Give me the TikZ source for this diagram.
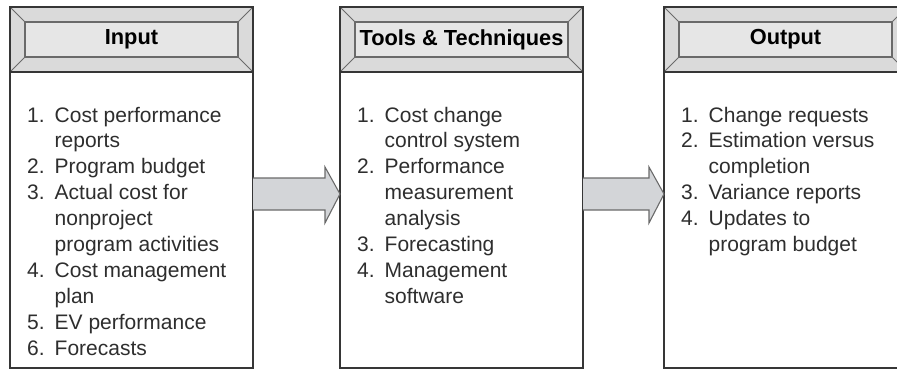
\documentclass[tikz,border=0pt]{standalone}
\usepackage{fontspec}
\setmainfont{Liberation Sans}
\usetikzlibrary{positioning}

\definecolor{frame}{HTML}{363636}
\definecolor{bevel}{HTML}{DADADA}
\definecolor{headfill}{HTML}{E6E6E6}
\definecolor{edge}{HTML}{6A6A6A}
\definecolor{ink}{HTML}{2E2E2E}
\definecolor{arrowfill}{HTML}{D3D5D8}

% block arrow between two panels
\newcommand\blockarrow[2]{%
  \fill[arrowfill] ([yshift=42pt]#1.east) -- ([xshift=-15pt,yshift=42pt]#2.west)
    -- ([xshift=-15pt,yshift=53pt]#2.west) -- ([yshift=26pt]#2.west)
    -- ([xshift=-15pt,yshift=-3pt]#2.west) -- ([xshift=-15pt,yshift=10pt]#2.west)
    -- ([yshift=10pt]#1.east) -- cycle;
  \draw[arrowline] ([yshift=42pt]#1.east) -- ([xshift=-15pt,yshift=42pt]#2.west)
    -- ([xshift=-15pt,yshift=53pt]#2.west) -- ([yshift=26pt]#2.west)
    -- ([xshift=-15pt,yshift=-3pt]#2.west) -- ([xshift=-15pt,yshift=10pt]#2.west)
    -- ([yshift=10pt]#1.east);}

% bevelled header on top of a panel
\newcommand\header[3]{%
  \node[head, above=0pt of #1] (#2) {};
  \node[headin] at (#2.center) (#2in) {#3};
  \draw[edge, line width=0.9pt] (#2.north west) -- (#2in.north west)
    (#2.north east) -- (#2in.north east)
    (#2.south west) -- (#2in.south west)
    (#2.south east) -- (#2in.south east);
  \draw[frame, line width=1.6pt] (#2.north west) rectangle (#2.south east);
  \draw[frame, line width=2.4pt] (#2.south west) -- (#2.south east);}

\begin{document}
\begin{tikzpicture}[
    x=1pt, y=-1pt,
    panel/.style   = {draw=frame, line width=1.6pt, fill=white,
                      minimum width=243pt, minimum height=296pt,
                      inner sep=0pt, outer sep=0pt},
    head/.style    = {fill=bevel, minimum width=243pt, minimum height=65pt,
                      inner sep=0pt, outer sep=0pt},
    headin/.style  = {draw=edge, line width=1.1pt, fill=headfill,
                      minimum width=213pt, minimum height=35pt,
                      inner sep=0pt, outer sep=0pt, text=black,
                      font=\fontsize{21.8}{24}\selectfont\bfseries},
    items/.style   = {anchor=base west, inner sep=0pt, text=ink,
                      font=\fontsize{21}{25.9}\selectfont},
    arrowline/.style = {draw=edge, line width=1.1pt, line join=miter},
]
\useasboundingbox (0,0) rectangle (897,370);

%% Panels
\node[panel, anchor=north west] at (10,72) (inbody) {};
\node[panel, right=87pt of inbody] (toolbody) {};
\node[panel, right=81pt of toolbody] (outbody) {};

%% Headers
\header{inbody}{inhead}{Input}
\header{toolbody}{toolhead}{Tools \& Techniques}
\header{outbody}{outhead}{Output}

%% Lists
\node[items] at ([xshift=17pt,yshift=-50pt]inbody.north west) (inlist) {%
  \begin{tabular}[t]{@{}r@{\hspace{10pt}}l@{}}
  1. & Cost performance\\
     & reports\\
  2. & Program budget\\
  3. & Actual cost for\\
     & nonproject\\
     & program activities\\
  4. & Cost management\\
     & plan\\
  5. & EV performance\\
  6. & Forecasts
  \end{tabular}};
\node[items] at ([xshift=17pt,yshift=-50pt]toolbody.north west) (toollist) {%
  \begin{tabular}[t]{@{}r@{\hspace{10pt}}l@{}}
  1. & Cost change\\
     & control system\\
  2. & Performance\\
     & measurement\\
     & analysis\\
  3. & Forecasting\\
  4. & Management\\
     & software
  \end{tabular}};
\node[items] at ([xshift=17pt,yshift=-50pt]outbody.north west) (outlist) {%
  \begin{tabular}[t]{@{}r@{\hspace{10pt}}l@{}}
  1. & Change requests\\
  2. & Estimation versus\\
     & completion\\
  3. & Variance reports\\
  4. & Updates to\\
     & program budget
  \end{tabular}};

%% Arrows
\blockarrow{inbody}{toolbody}
\blockarrow{toolbody}{outbody}

\end{tikzpicture}
\end{document}
